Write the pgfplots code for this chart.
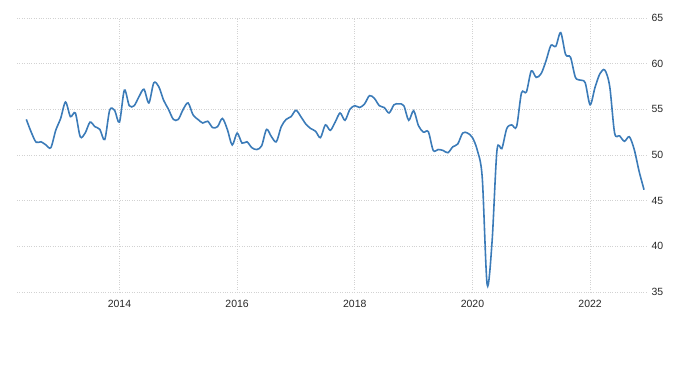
\documentclass[border=0pt]{standalone}
\usepackage{pgfplots}
\pgfplotsset{compat=1.18}
\usepackage{pgfplotstable}
\usepackage{fontspec}
\setmainfont{Liberation Sans}
\definecolor{linec}{HTML}{3B7BB8}
\definecolor{gridc}{HTML}{D2D2D2}
% m = months since Jan 2014
\pgfplotstableread{
m v
-19 53.9
-18 52.5
-17 51.4
-16 51.45
-15 51.1
-14 50.8
-13 52.7
-12 54.0
-11 55.8
-10 54.2
-9 54.6
-8 52.0
-7 52.4
-6 53.6
-5 53.1
-4 52.8
-3 51.7
-2 54.9
-1 54.9
0 53.6
1 57.1
2 55.4
3 55.4
4 56.4
5 57.2
6 55.7
7 57.9
8 57.5
9 56.0
10 55.0
11 53.9
12 53.9
13 55.0
14 55.7
15 54.4
16 53.9
17 53.5
18 53.7
19 53.0
20 53.1
21 54.0
22 52.8
23 51.1
24 52.4
25 51.3
26 51.45
27 50.8
28 50.6
29 51.0
30 52.8
31 52.0
32 51.45
33 53.1
34 53.9
35 54.2
36 54.9
37 54.2
38 53.4
39 52.9
40 52.6
41 51.9
42 53.3
43 52.7
44 53.6
45 54.6
46 53.8
47 55.0
48 55.4
49 55.2
50 55.6
51 56.5
52 56.2
53 55.4
54 55.2
55 54.6
56 55.5
57 55.6
58 55.4
59 53.8
60 54.85
61 53.2
62 52.5
63 52.55
64 50.5
65 50.6
66 50.5
67 50.25
68 50.9
69 51.2
70 52.4
71 52.4
72 51.9
73 50.5
74 47.5
75 35.8
76 40.5
77 50.5
78 50.7
79 52.9
80 53.3
81 53.1
82 56.8
83 56.9
84 59.2
85 58.5
86 58.9
87 60.3
88 62.0
89 61.9
90 63.4
91 61.0
92 60.7
93 58.5
94 58.2
95 57.9
96 55.5
97 57.4
98 58.9
99 59.3
100 57.5
101 52.4
102 52.1
103 51.5
104 52.0
105 50.6
106 48.2
107 46.2
}\data
\begin{document}
\begin{tikzpicture}
\path[use as bounding box] (0,0) rectangle (700bp,368bp);
\begin{axis}[at={(17bp,76bp)}, anchor=south west, scale only axis,
  width=629bp, height=274bp,
  xmin=-20.9, xmax=107.4, ymin=35, ymax=65,
  xtick={0,24,48,72,96}, xticklabels={2014,2016,2018,2020,2022},
  ytick={35,40,45,50,55,60,65}, yticklabel pos=right,
  axis line style={draw=none}, major tick length=0pt,
  grid=major, major grid style={gridc, dotted, line width=0.8pt},
  tick label style={font=\fontsize{10.5}{12}\selectfont, text=black!85},
  /pgf/number format/assume math mode=true,
  yticklabel style={anchor=west, xshift=2bp},
  xticklabel style={yshift=-5bp},
  clip=false]
\addplot[linec, line width=1.6pt, smooth, tension=0.5] table[x=m,y=v]{\data};
\end{axis}
\end{tikzpicture}
\end{document}
